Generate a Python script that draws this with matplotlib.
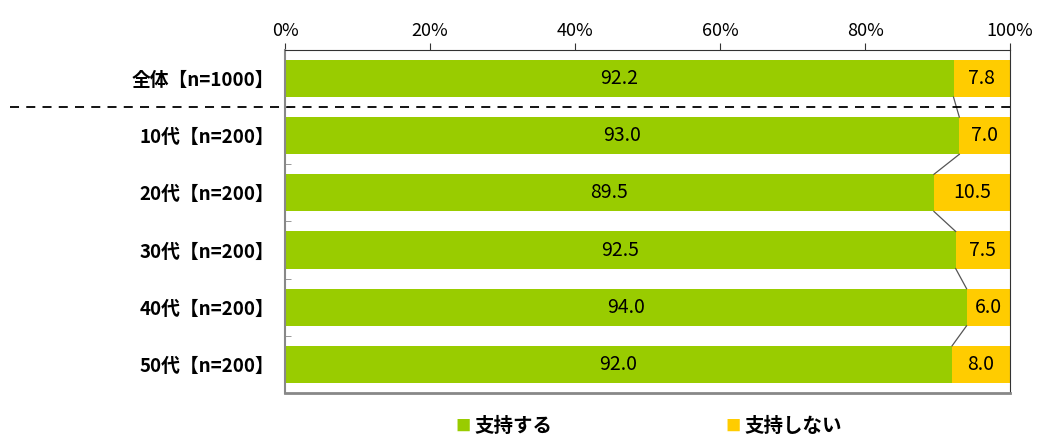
import numpy as np
import matplotlib.pyplot as plt
from matplotlib.transforms import blended_transform_factory

plt.rcParams['font.family'] = ['Noto Sans CJK JP', 'DejaVu Sans']

categories = ['全体【n=1000】', '10代【n=200】', '20代【n=200】', '30代【n=200】', '40代【n=200】', '50代【n=200】']
support = [92.2, 93.0, 89.5, 92.5, 94.0, 92.0]
not_support = [7.8, 7.0, 10.5, 7.5, 6.0, 8.0]
series_names = ['支持する', '支持しない']
xticks = [0, 20, 40, 60, 80, 100]

green = '#99CC00'
yellow = '#FFCC00'

fig = plt.figure(figsize=(10.38, 4.37), dpi=100)
ax = fig.add_axes([0.2746, 0.1007, 0.6985, 0.785])

y = np.arange(len(categories))
h = 0.65
ax.barh(y, support, height=h, color=green, zorder=2)
ax.barh(y, not_support, left=support, height=h, color=yellow, zorder=2)

for i in range(len(categories)):
    ax.text(support[i] / 2, y[i], f'{support[i]:.1f}', ha='center', va='center', fontsize=14)
    ax.text(support[i] + not_support[i] / 2, y[i], f'{not_support[i]:.1f}', ha='center', va='center', fontsize=14)

# series lines between bars
for i in range(len(categories) - 1):
    ax.plot([support[i], support[i + 1]], [y[i] + h / 2, y[i + 1] - h / 2], color='#555555', lw=0.9, zorder=3)

ax.set_xlim(0, 100)
ax.set_ylim(len(categories) - 0.5, -0.5)
ax.xaxis.tick_top()
ax.set_xticks(xticks)
ax.set_xticklabels([f'{t}%' for t in xticks], fontsize=13)
ax.tick_params(axis='x', length=5, color='#333333', pad=2)
ax.set_yticks(y)
ax.set_yticklabels(categories, fontsize=13.5, fontweight='bold')
ax.tick_params(axis='y', length=0, pad=8)
ax.set_yticks(np.arange(0.5, len(categories) - 1), minor=True)
ax.tick_params(axis='y', which='minor', length=4, direction='in', color='#888888')

ax.spines['top'].set_color('#333333')
ax.spines['right'].set_color('#333333')
ax.spines['left'].set_color('#888888')
ax.spines['bottom'].set_color('#888888')
ax.spines['bottom'].set_linewidth(2)
ax.spines['left'].set_linewidth(1.5)

# dashed separator after the total row
tr = blended_transform_factory(fig.transFigure, ax.transData)
ax.plot([10 / 1038, 1010 / 1038], [0.5, 0.5], transform=tr, color='black', lw=1.3,
        ls=(0, (5, 4)), clip_on=False, zorder=4)

# legend
ly = 1 - 426 / 437
fig.text(463 / 1038, ly, '■', color=green, fontsize=11, ha='center', va='center')
fig.text(474 / 1038, ly, series_names[0], fontsize=14, fontweight='bold', ha='left', va='center')
fig.text(733 / 1038, ly, '■', color=yellow, fontsize=11, ha='center', va='center')
fig.text(744 / 1038, ly, series_names[1], fontsize=14, fontweight='bold', ha='left', va='center')

fig.savefig('out.png', dpi=100)
